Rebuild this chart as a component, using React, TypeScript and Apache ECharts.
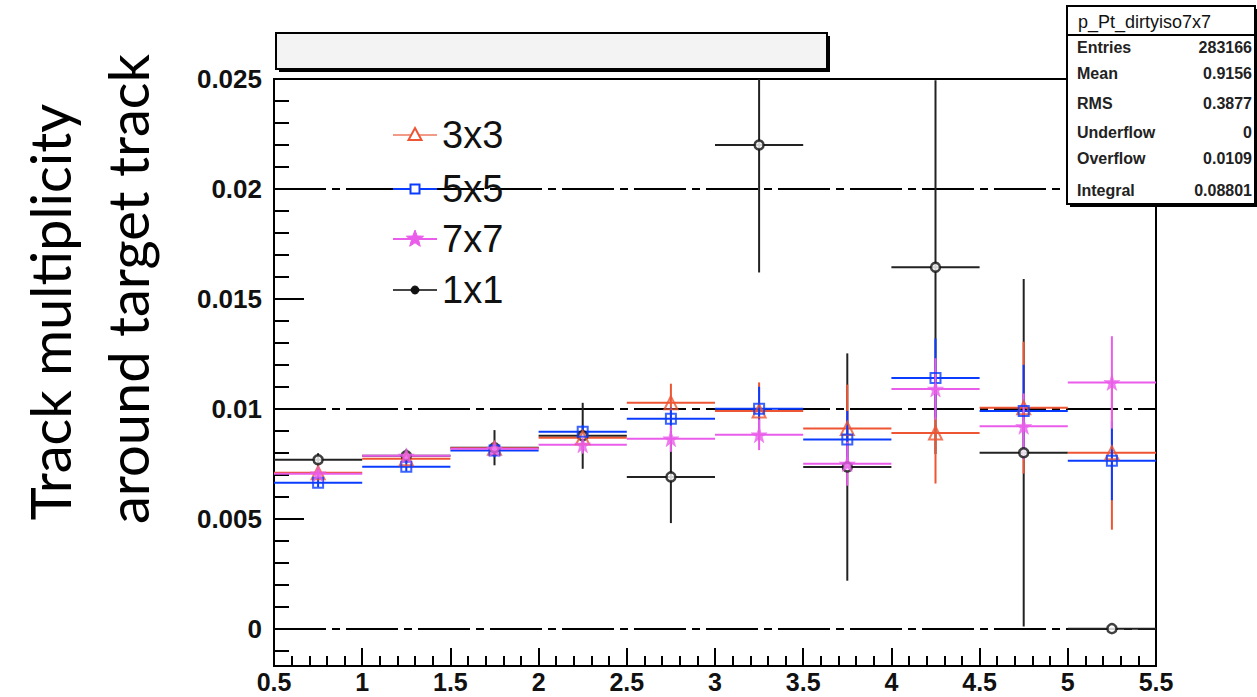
import React, { useEffect, useRef } from "react";
import * as echarts from "echarts";

// ---------- data ----------
const binCenters = [0.75, 1.25, 1.75, 2.25, 2.75, 3.25, 3.75, 4.25, 4.75, 5.25];
const binHalfWidth = 0.25;

const val3x3 = [0.00709, 0.00773, 0.0082, 0.00868, 0.01027, 0.0099, 0.0091, 0.0089, 0.01005, 0.008];
const err3x3 = [0.0002, 0.0002, 0.0003, 0.0004, 0.00087, 0.0013, 0.002, 0.0023, 0.003, 0.0035];

const val5x5 = [0.00664, 0.00736, 0.0081, 0.00895, 0.00955, 0.01, 0.0086, 0.0114, 0.0099, 0.00764];
const err5x5 = [0.0002, 0.0002, 0.0003, 0.0003, 0.0005, 0.001, 0.0013, 0.0018, 0.0021, 0.0018];

const val7x7 = [0.00705, 0.00786, 0.00818, 0.00836, 0.00864, 0.00882, 0.0075, 0.0109, 0.0092, 0.0112];
const err7x7 = [0.0002, 0.0002, 0.0003, 0.0004, 0.0006, 0.0007, 0.001, 0.0014, 0.0015, 0.0021];

const val1x1 = [0.00768, 0.00786, 0.00823, 0.00877, 0.0069, 0.022, 0.00735, 0.01644, 0.008, 0.0];
const err1x1 = [0.0003, 0.0003, 0.0008, 0.0015, 0.0021, 0.0058, 0.00517, 0.0085, 0.0079, 0.0];

const legendNames = ["3x3", "5x5", "7x7", "1x1"];

const xMin = 0.5;
const xMax = 5.5;
const yMin = -0.0017;
const yMax = 0.025;
const yMajorTicks = [0, 0.005, 0.01, 0.015, 0.02, 0.025];
const yMinorTicks = [
  -0.001, 0, 0.001, 0.002, 0.003, 0.004, 0.005, 0.006, 0.007, 0.008, 0.009, 0.01,
  0.011, 0.012, 0.013, 0.014, 0.015, 0.016, 0.017, 0.018, 0.019, 0.02, 0.021,
  0.022, 0.023, 0.024, 0.025,
];
const gridValues = [0, 0.005, 0.01, 0.015, 0.02];

const statsTitle = "p_Pt_dirtyiso7x7";
const statsLabels = ["Entries", "Mean", "RMS", "Underflow", "Overflow", "Integral"];
const statsValues = ["283166", "0.9156", "0.3877", "0", "0.0109", "0.08801"];

const yTitleLines = ["Track multiplicity", "around target track"];

// ---------- styles ----------
const RED = "#ee5533";
const BLUE = "#0a3cff";
const MAGENTA = "#ea5cea";
const BLACK = "#222222";
const STAR =
  "path://M50,0 L61.8,35.1 98.1,35.1 68.8,56.9 79.4,91.5 50,70 20.6,91.5 31.2,56.9 1.9,35.1 38.2,35.1Z";

function errRender(color: string, width: number) {
  return (params: any, api: any) => {
    const x = api.value(0);
    const y = api.value(1);
    const e = api.value(2);
    const cs = params.coordSys;
    const top = cs.y;
    const bottom = cs.y + cs.height;
    const clampY = (v: number) => Math.max(top, Math.min(bottom, v));
    const l = api.coord([x - binHalfWidth, y]);
    const r = api.coord([x + binHalfWidth, y]);
    const u = api.coord([x, y + e]);
    const d = api.coord([x, y - e]);
    const children: any[] = [];
    if (l[1] >= top && l[1] <= bottom) {
      children.push({
        type: "line",
        shape: { x1: l[0], y1: l[1], x2: r[0], y2: r[1] },
        style: { stroke: color, lineWidth: width },
      });
    }
    if (e > 0) {
      children.push({
        type: "line",
        shape: { x1: u[0], y1: clampY(u[1]), x2: d[0], y2: clampY(d[1]) },
        style: { stroke: color, lineWidth: width },
      });
    }
    return { type: "group", children };
  };
}

function errSeries(vals: number[], errs: number[], color: string, width: number, extra: any = {}) {
  return {
    type: "custom",
    renderItem: errRender(color, width),
    data: binCenters.map((x, i) => [x, vals[i], errs[i]]),
    encode: { x: 0, y: 1 },
    xAxisIndex: 0,
    yAxisIndex: 0,
    silent: true,
    ...extra,
  };
}

function markerSeries(vals: number[], symbol: string, size: number, itemStyle: any) {
  return {
    type: "scatter",
    data: binCenters.map((x, i) => [x, vals[i]]),
    symbol,
    symbolSize: size,
    itemStyle,
    xAxisIndex: 0,
    yAxisIndex: 0,
    silent: true,
  };
}

function starPoints(cx: number, cy: number, R: number, r: number) {
  const pts: number[][] = [];
  for (let k = 0; k < 10; k++) {
    const a = -Math.PI / 2 + (k * Math.PI) / 5;
    const rad = k % 2 === 0 ? R : r;
    pts.push([cx + rad * Math.cos(a), cy + rad * Math.sin(a)]);
  }
  return pts;
}

export default function App() {
  const ref = useRef<HTMLDivElement>(null);

  useEffect(() => {
    if (!ref.current) return;
    const chart = echarts.init(ref.current, undefined, { renderer: "svg" });

    const axisFont = "'Liberation Sans', Arial, Helvetica, sans-serif";

    // legend graphic
    const legendRowY = [135, 189, 239, 290];
    const lx1 = 393;
    const lx2 = 437;
    const lcx = 415;
    const legendLineColors = ["#f29a88", BLUE, MAGENTA, "#444"];
    const legendGraphics: any[] = [];
    legendNames.forEach((name, i) => {
      const cy = legendRowY[i];
      legendGraphics.push({
        type: "line",
        shape: { x1: lx1, y1: cy, x2: lx2, y2: cy },
        style: { stroke: legendLineColors[i], lineWidth: 2 },
        z: 10,
      });
      if (i === 0) {
        legendGraphics.push({
          type: "polygon",
          shape: { points: [[lcx, cy - 7], [lcx + 6.5, cy + 5], [lcx - 6.5, cy + 5]] },
          style: { fill: "#fff", stroke: RED, lineWidth: 2 },
          z: 11,
        });
      } else if (i === 1) {
        legendGraphics.push({
          type: "rect",
          shape: { x: lcx - 4.5, y: cy - 4.5, width: 9, height: 9 },
          style: { fill: "#fff", stroke: BLUE, lineWidth: 2 },
          z: 11,
        });
      } else if (i === 2) {
        legendGraphics.push({
          type: "polygon",
          shape: { points: starPoints(lcx, cy, 9, 3.8) },
          style: { fill: MAGENTA, stroke: MAGENTA, lineWidth: 1 },
          z: 11,
        });
      } else {
        legendGraphics.push({
          type: "circle",
          shape: { cx: lcx, cy, r: 4 },
          style: { fill: "#111", stroke: "#111", lineWidth: 1 },
          z: 11,
        });
      }
      legendGraphics.push({
        type: "text",
        x: 442,
        y: cy,
        style: {
          text: name,
          font: `38px ${axisFont}`,
          fill: "#111",
          textAlign: "left",
          textVerticalAlign: "middle",
        },
        z: 11,
      });
    });

    // stats box graphic
    const sbX = 1067;
    const sbY = 6;
    const sbW = 188;
    const sbH = 198;
    const rowYs = [47, 73, 103, 132, 158, 190];
    const statsGraphics: any[] = [
      { type: "rect", shape: { x: sbX + 3, y: sbY + 3, width: sbW, height: sbH }, style: { fill: "#000" }, z: 20 },
      { type: "rect", shape: { x: sbX, y: sbY, width: sbW, height: sbH }, style: { fill: "#fff", stroke: "#000", lineWidth: 2 }, z: 21 },
      { type: "line", shape: { x1: sbX, y1: 35, x2: sbX + sbW, y2: 35 }, style: { stroke: "#000", lineWidth: 2 }, z: 22 },
      {
        type: "text",
        x: 1078,
        y: 22,
        style: { text: statsTitle, font: `18px ${axisFont}`, fill: "#111", textAlign: "left", textVerticalAlign: "middle" },
        z: 22,
      },
    ];
    statsLabels.forEach((lab, i) => {
      statsGraphics.push({
        type: "text",
        x: 1077,
        y: rowYs[i],
        style: { text: lab, font: `bold 16px ${axisFont}`, fill: "#222", textAlign: "left", textVerticalAlign: "middle" },
        z: 22,
      });
      statsGraphics.push({
        type: "text",
        x: 1252,
        y: rowYs[i],
        style: { text: statsValues[i], font: `bold 16px ${axisFont}`, fill: "#222", textAlign: "right", textVerticalAlign: "middle" },
        z: 22,
      });
    });

    // title box graphic
    const titleGraphics: any[] = [
      { type: "rect", shape: { x: 279, y: 36, width: 551, height: 36 }, style: { fill: "#000" }, z: 20 },
      { type: "rect", shape: { x: 276, y: 33, width: 551, height: 36 }, style: { fill: "#f3f3f3", stroke: "#000", lineWidth: 2 }, z: 21 },
    ];

    // y title
    const yTitleFont = `56px Lato, 'Open Sans', sans-serif`;
    const yTitleGraphics: any[] = [
      {
        type: "text",
        x: 49,
        y: 312,
        rotation: Math.PI / 2,
        style: {
          text: yTitleLines[0],
          font: yTitleFont,
          fill: "#000",
          textAlign: "center",
          textVerticalAlign: "middle",
        },
      },
      {
        type: "text",
        x: 127,
        y: 289,
        rotation: Math.PI / 2,
        style: {
          text: yTitleLines[1],
          font: yTitleFont,
          fill: "#000",
          textAlign: "center",
          textVerticalAlign: "middle",
        },
      },
    ];

    const option: any = {
      animation: false,
      backgroundColor: "#fff",
      grid: {
        left: 274,
        top: 79,
        right: 101,
        bottom: 31,
        show: true,
        borderColor: "#000",
        borderWidth: 2,
        backgroundColor: "transparent",
      },
      xAxis: {
        type: "value",
        min: xMin,
        max: xMax,
        interval: 0.5,
        axisLine: { show: true, onZero: false, lineStyle: { color: "#000", width: 2 } },
        axisTick: { show: true, inside: true, length: 18, lineStyle: { color: "#000", width: 2 } },
        minorTick: { show: true, splitNumber: 5, length: 10, lineStyle: { color: "#000", width: 2 } },
        axisLabel: {
          show: true,
          margin: 3,
          color: "#111",
          fontSize: 25,
          lineHeight: 25,
          fontWeight: "bold",
          fontFamily: axisFont,
          formatter: (v: number) => String(+v.toFixed(2)),
        },
        splitLine: { show: false },
      },
      yAxis: [
        {
          type: "value",
          min: yMin,
          max: yMax,
          axisLine: { show: true, onZero: false, lineStyle: { color: "#000", width: 2 } },
          axisTick: {
            show: true,
            inside: true,
            length: 15,
            customValues: yMinorTicks,
            lineStyle: { color: "#000", width: 2 },
          },
          axisLabel: { show: false },
          splitLine: { show: false },
        },
        {
          type: "value",
          min: yMin,
          max: yMax,
          position: "left",
          axisLine: { show: false },
          axisTick: {
            show: true,
            inside: true,
            length: 30,
            customValues: yMajorTicks,
            lineStyle: { color: "#000", width: 2 },
          },
          axisLabel: {
            show: true,
            customValues: yMajorTicks,
            margin: 12,
            color: "#111",
            fontSize: 26,
            fontWeight: "bold",
            fontFamily: axisFont,
            formatter: (v: number) => String(+v.toFixed(3)),
          },
          splitLine: { show: false },
        },
      ],
      graphic: [...titleGraphics, ...statsGraphics, ...yTitleGraphics, ...legendGraphics],
      series: [
        {
          ...errSeries(val1x1, err1x1, BLACK, 2),
          markLine: {
            silent: true,
            z: 1,
            symbol: ["none", "none"],
            label: { show: false },
            lineStyle: { color: "#000", width: 2, type: [52, 6, 8, 6] },
            data: gridValues.map((v) => ({ yAxis: v })),
          },
        },
        markerSeries(val1x1, "circle", 9, { color: "#fff", borderColor: "#111", borderWidth: 2.5 }),
        errSeries(val3x3, err3x3, RED, 2),
        markerSeries(val3x3, "triangle", 13, { color: "rgba(255,255,255,0)", borderColor: RED, borderWidth: 2 }),
        errSeries(val5x5, err5x5, BLUE, 2),
        markerSeries(val5x5, "rect", 10, { color: "rgba(255,255,255,0)", borderColor: BLUE, borderWidth: 2 }),
        errSeries(val7x7, err7x7, MAGENTA, 2),
        markerSeries(val7x7, STAR, 16, { color: MAGENTA, borderColor: MAGENTA, borderWidth: 0.5 }),
      ],
    };

    chart.setOption(option);
    return () => {
      chart.dispose();
    };
  }, []);

  return (
    <div
      ref={ref}
      style={{ position: "fixed", left: 0, top: 0, width: 1257, height: 697, background: "#fff" }}
    />
  );
}
